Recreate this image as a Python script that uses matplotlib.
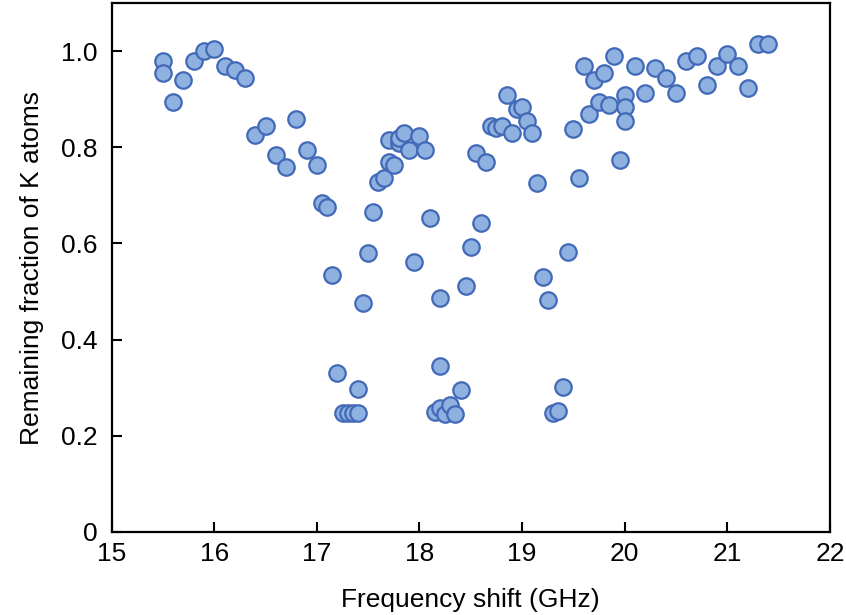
import matplotlib
matplotlib.use('Agg')
import matplotlib.pyplot as plt

plt.rcParams['font.family'] = ['Liberation Sans', 'DejaVu Sans']

# frequency shift (GHz) and remaining fraction
freq = [15.50, 15.50, 15.60, 15.70, 15.80, 15.90, 16.00, 16.10, 16.20, 16.30,
        16.40, 16.50, 16.60, 16.70, 16.80, 16.90, 17.00, 17.05, 17.10, 17.15,
        17.20, 17.25, 17.30, 17.35, 17.40, 17.40, 17.45, 17.50, 17.55, 17.60,
        17.65, 17.70, 17.70, 17.75, 17.80, 17.80, 17.85, 17.90, 17.95, 18.00,
        18.05, 18.10, 18.15, 18.20, 18.20, 18.20, 18.25, 18.30, 18.35, 18.40,
        18.45, 18.50, 18.55, 18.60, 18.65, 18.70, 18.75, 18.80, 18.85, 18.90,
        18.95, 19.00, 19.05, 19.10, 19.15, 19.20, 19.25, 19.30, 19.35, 19.40,
        19.45, 19.50, 19.55, 19.60, 19.65, 19.70, 19.75, 19.80, 19.85, 19.90,
        19.95, 20.00, 20.00, 20.00, 20.10, 20.20, 20.30, 20.40, 20.50, 20.60,
        20.70, 20.80, 20.90, 21.00, 21.10, 21.20, 21.30, 21.40]
frac = [0.979, 0.955, 0.895, 0.940, 0.979, 1.000, 1.004, 0.969, 0.960, 0.945,
        0.825, 0.844, 0.784, 0.760, 0.859, 0.794, 0.764, 0.685, 0.676, 0.534,
        0.331, 0.247, 0.247, 0.247, 0.247, 0.298, 0.477, 0.581, 0.665, 0.727,
        0.737, 0.770, 0.815, 0.764, 0.809, 0.820, 0.830, 0.794, 0.562, 0.824,
        0.794, 0.653, 0.250, 0.257, 0.346, 0.487, 0.246, 0.264, 0.246, 0.296,
        0.511, 0.593, 0.789, 0.643, 0.769, 0.845, 0.841, 0.845, 0.909, 0.829,
        0.879, 0.884, 0.854, 0.829, 0.725, 0.531, 0.482, 0.247, 0.251, 0.302,
        0.582, 0.839, 0.737, 0.969, 0.870, 0.939, 0.894, 0.954, 0.889, 0.989,
        0.774, 0.909, 0.884, 0.854, 0.969, 0.914, 0.965, 0.944, 0.914, 0.979,
        0.989, 0.929, 0.969, 0.994, 0.969, 0.924, 1.015, 1.015]

fig = plt.figure(figsize=(8.46, 6.15), dpi=100)
ax = fig.add_axes([0.132, 0.135, 0.849, 0.860])

ax.scatter(freq, frac, s=140, facecolor='#8fb1e0', edgecolor='#4169b8',
           linewidth=1.6, zorder=3)

ax.set_xlim(15, 22)
ax.set_ylim(0, 1.1)
ax.set_xticks(range(15, 23))
ax.set_yticks([0, 0.2, 0.4, 0.6, 0.8, 1.0])
ax.set_yticklabels(['0', '0.2', '0.4', '0.6', '0.8', '1.0'])
ax.tick_params(direction='in', length=7, width=1.5, labelsize=19)
ax.tick_params(axis='x', pad=7)
ax.tick_params(axis='y', pad=10)
for sp in ax.spines.values():
    sp.set_linewidth(1.6)

ax.set_xlabel('Frequency shift (GHz)', fontsize=19, labelpad=16)
ax.set_ylabel('Remaining fraction of K atoms', fontsize=19, labelpad=12)

fig.savefig('out.png', dpi=100)
